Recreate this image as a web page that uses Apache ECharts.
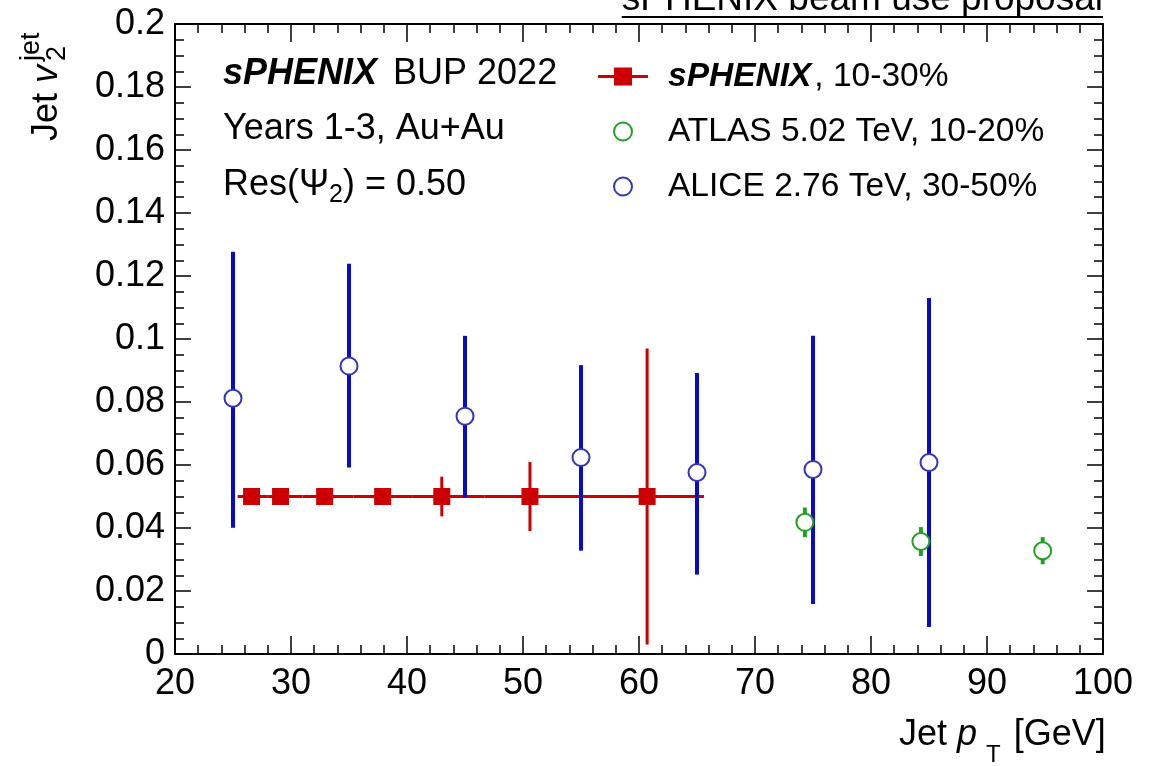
<!DOCTYPE html>
<html>
<head>
<meta charset="utf-8">
<script src="https://cdn.jsdelivr.net/npm/echarts@6/dist/echarts.min.js"></script>
<style>
  html, body { margin: 0; padding: 0; background: #fff; }
  #chart { width: 1158px; height: 766px; }
</style>
</head>
<body>
<div id="chart"></div>
<script>
// sPHENIX projection (10-30%), x error = bin range
const sphenixPt = [26.6, 29.1, 32.9, 37.9, 43.0, 50.6, 60.7];
const sphenixV2 = [0.05, 0.05, 0.05, 0.05, 0.05, 0.05, 0.05];
const sphenixErr = [0.0008, 0.0008, 0.001, 0.0022, 0.0063, 0.011, 0.047];
const sphenixPtLow = [25.4, 28.0, 31.0, 35.4, 40.5, 46.7, 55.6];
const sphenixPtHigh = [28.0, 31.0, 35.4, 40.5, 46.7, 55.6, 65.6];

// ATLAS 5.02 TeV, 10-20%
const atlasPt = [74.3, 84.3, 94.8];
const atlasV2 = [0.0418, 0.0357, 0.0328];
const atlasErr = [0.0047, 0.0046, 0.0043];

// ALICE 2.76 TeV, 30-50%
const alicePt = [25, 35, 45, 55, 65, 75, 85];
const aliceV2 = [0.0812, 0.0914, 0.0755, 0.0624, 0.0576, 0.0586, 0.0608];
const aliceErrUp = [0.0465, 0.0325, 0.0255, 0.0293, 0.0316, 0.0424, 0.0522];
const aliceErrDown = [0.0411, 0.0322, 0.0258, 0.0296, 0.0324, 0.0427, 0.0522];

// axis ranges
const xRange = [20, 100, 10];
const yRange = [0, 0.2, 0.02];

const seriesNames = ['sPHENIX, 10-30%', 'ATLAS 5.02 TeV, 10-20%', 'ALICE 2.76 TeV, 30-50%'];

const FONT = '"Liberation Sans", Arial, Helvetica, sans-serif';
const RED = '#cc0000', GREEN = '#22a022', BLUE = '#0a0acc', BLUE_M = '#3535bb';

const measureCtx = document.createElement('canvas').getContext('2d');
function textWidth(str, size, italic, bold) {
  measureCtx.font = (italic ? 'italic ' : '') + (bold ? 'bold ' : '') + size + 'px ' + FONT;
  return measureCtx.measureText(str).width;
}

// lay out text pieces one after another (sub/superscripts with dy)
function textRun(pieces, x0, yMid) {
  let x = x0;
  const out = [];
  pieces.forEach(function (p) {
    const size = p.size || 36;
    out.push({
      type: 'text', x: x + (p.dx || 0), y: yMid + (p.dy || 0), z: 10,
      style: {
        text: p.text, fontSize: size, fontFamily: FONT,
        fontStyle: p.italic ? 'italic' : 'normal',
        fontWeight: p.bold ? 'bold' : 'normal',
        fill: '#000', align: 'left', verticalAlign: 'middle'
      }
    });
    if (!p.noAdvance) x += textWidth(p.text, size, p.italic, p.bold) + (p.dx || 0) + (p.gap || 0);
  });
  return out;
}

function errData(xs, ys, lo, hi, xlo, xhi) {
  return xs.map(function (x, i) {
    return [x, ys[i], ys[i] - lo[i], ys[i] + hi[i],
      xlo ? xlo[i] : x, xhi ? xhi[i] : x];
  });
}

function errorBars(color, width) {
  return function (params, api) {
    const x = api.value(0), yl = api.value(2), yh = api.value(3);
    const xl = api.value(4), xh = api.value(5), y = api.value(1);
    const a = api.coord([x, yl]), b = api.coord([x, yh]);
    const children = [{
      type: 'line',
      shape: { x1: a[0], y1: a[1], x2: b[0], y2: b[1] },
      style: { stroke: color, lineWidth: width }
    }];
    if (xl !== xh) {
      const c = api.coord([xl, y]), d = api.coord([xh, y]);
      children.push({
        type: 'line',
        shape: { x1: c[0], y1: c[1], x2: d[0], y2: d[1] },
        style: { stroke: color, lineWidth: width }
      });
    }
    return { type: 'group', children: children };
  };
}

const myChart = echarts.init(document.getElementById('chart'));

const axisCommon = {
  type: 'value',
  axisLine: { show: true, onZero: false, lineStyle: { color: '#000', width: 2 } },
  splitLine: { show: false }
};

const xAxisBase = Object.assign({}, axisCommon, {
  min: xRange[0], max: xRange[1], interval: xRange[2],
  axisTick: { show: true, inside: true, length: 18, lineStyle: { color: '#000', width: 1.5 } },
  minorTick: { show: true, splitNumber: 5, length: 9, lineStyle: { color: '#000', width: 1.5 } }
});
const yAxisBase = Object.assign({}, axisCommon, {
  min: yRange[0], max: yRange[1], interval: yRange[2],
  axisTick: { show: true, inside: true, length: 16, lineStyle: { color: '#000', width: 1.5 } },
  minorTick: { show: true, splitNumber: 4, length: 9, lineStyle: { color: '#000', width: 1.5 } }
});

const graphicEls = [];
// title (clipped at the top of the picture), underlined
graphicEls.push({
  type: 'text', x: 1103, y: 0, z: 10,
  style: { text: 'sPHENIX beam use proposal', fontSize: 37, fontFamily: FONT, fill: '#000',
    align: 'right', verticalAlign: 'middle' }
});
graphicEls.push({
  type: 'line', z: 10,
  shape: { x1: 1103 - textWidth('sPHENIX beam use proposal', 37), y1: 17, x2: 1103, y2: 17 },
  style: { stroke: '#000', lineWidth: 2 }
});
// annotations top left
Array.prototype.push.apply(graphicEls, textRun([
  { text: 'sPHENIX', bold: true, italic: true, gap: 6 }, { text: ' BUP 2022' }
], 223, 74.5));
Array.prototype.push.apply(graphicEls, textRun([{ text: 'Years 1-3, Au+Au' }], 223, 129.5));
Array.prototype.push.apply(graphicEls, textRun([
  { text: 'Res(\u03A8' }, { text: '2', size: 25, dy: 10 }, { text: ') = 0.50' }
], 223, 185.5));
// x axis title
Array.prototype.push.apply(graphicEls, textRun([
  { text: 'Jet ', size: 36 }, { text: 'p', size: 36, italic: true },
  { text: 'T', size: 24, dy: 20, dx: 9 }, { text: ' [GeV]', size: 36, dx: 3 }
], 899, 735));
// y axis title, rotated
graphicEls.push({
  type: 'group', x: 47, y: 141, rotation: Math.PI / 2, z: 10,
  children: textRun([
    { text: 'Jet ', size: 36 }, { text: 'v', size: 36, italic: true, gap: 4 },
    { text: 'jet', size: 27, dy: -15, noAdvance: true }, { text: '2', size: 27, dy: 11 }
  ], 0, 0)
});

const option = {
  animation: false,
  backgroundColor: '#fff',
  grid: { left: 175, right: 55, top: 24, bottom: 112, containLabel: false },
  xAxis: [
    Object.assign({}, xAxisBase, {
      position: 'bottom',
      axisLabel: { show: true, margin: 12, color: '#000', fontSize: 36, fontFamily: FONT }
    }),
    Object.assign({}, xAxisBase, { position: 'top', axisLabel: { show: false } })
  ],
  yAxis: [
    Object.assign({}, yAxisBase, {
      position: 'left',
      axisLabel: {
        show: true, margin: 10, color: '#000', fontSize: 36, fontFamily: FONT,
        formatter: function (v) { return String(parseFloat(v.toFixed(3))); }
      }
    }),
    Object.assign({}, yAxisBase, { position: 'right', axisLabel: { show: false } })
  ],
  legend: {
    orient: 'vertical',
    left: 598, top: 56.5, padding: 0, itemGap: 15,
    itemWidth: 50, itemHeight: 18,
    selectedMode: false,
    data: [
      { name: seriesNames[0],
        icon: 'path://M0,7.5L16,7.5L16,0L34,0L34,7.5L50,7.5L50,10.5L34,10.5L34,18L16,18L16,10.5L0,10.5Z',
        itemStyle: { color: RED, borderWidth: 0 } },
      { name: seriesNames[1], icon: 'circle',
        itemStyle: { color: '#fff', borderColor: GREEN, borderWidth: 2 } },
      { name: seriesNames[2], icon: 'circle',
        itemStyle: { color: '#fff', borderColor: BLUE_M, borderWidth: 2 } }
    ],
    formatter: function (name) {
      return name === seriesNames[0] ? '{b|sPHENIX}, 10-30%' : name;
    },
    textStyle: {
      color: '#000', fontSize: 33.5, fontFamily: FONT, lineHeight: 40, padding: [0, 0, 0, 15],
      rich: { b: { fontSize: 33.5, fontFamily: FONT, fontWeight: 'bold', fontStyle: 'italic', lineHeight: 40, padding: [0, 3, 0, 0] } }
    }
  },
  graphic: { elements: graphicEls },
  series: [
    {
      type: 'custom', z: 2, silent: true,
      renderItem: errorBars(RED, 3),
      encode: { x: 0, y: 1 },
      data: errData(sphenixPt, sphenixV2, sphenixErr, sphenixErr, sphenixPtLow, sphenixPtHigh)
    },
    {
      type: 'custom', z: 2, silent: true,
      renderItem: errorBars(BLUE, 4),
      encode: { x: 0, y: 1 },
      data: errData(alicePt, aliceV2, aliceErrDown, aliceErrUp)
    },
    {
      type: 'custom', z: 2, silent: true,
      renderItem: errorBars(GREEN, 4),
      encode: { x: 0, y: 1 },
      data: errData(atlasPt, atlasV2, atlasErr, atlasErr)
    },
    {
      name: seriesNames[0], type: 'scatter', z: 5,
      symbol: 'rect', symbolSize: 17,
      itemStyle: { color: RED, opacity: 1 },
      data: sphenixPt.map(function (x, i) { return [x, sphenixV2[i]]; })
    },
    {
      name: seriesNames[1], type: 'scatter', z: 5,
      symbol: 'circle', symbolSize: 17,
      itemStyle: { color: '#fff', borderColor: GREEN, borderWidth: 2, opacity: 1 },
      data: atlasPt.map(function (x, i) { return [x, atlasV2[i]]; })
    },
    {
      name: seriesNames[2], type: 'scatter', z: 5,
      symbol: 'circle', symbolSize: 17,
      itemStyle: { color: '#fff', borderColor: BLUE_M, borderWidth: 2, opacity: 1 },
      data: alicePt.map(function (x, i) { return [x, aliceV2[i]]; })
    }
  ]
};

myChart.setOption(option);
window.addEventListener('resize', function () { myChart.resize(); });
</script>
</body>
</html>
